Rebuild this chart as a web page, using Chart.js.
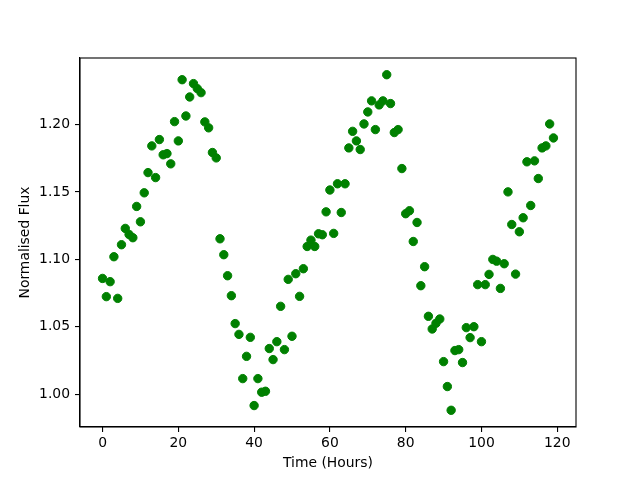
<!DOCTYPE html>
<html>
<head>
<meta charset="utf-8">
<script src="https://cdn.jsdelivr.net/npm/chart.js@4"></script>
<style>
html,body{margin:0;padding:0;background:#fff;}
canvas{display:block;}
</style>
</head>
<body>
<canvas id="c" width="640" height="480"></canvas>
<script>
const hours = [0,1,2,3,4,5,6,7,8,9,10,11,12,13,14,15,16,17,18,19,20,21,22,23,24,25,26,27,28,29,
30,31,32,33,34,35,36,37,38,39,40,41,42,43,44,45,46,47,48,49,50,51,52,53,54,55,56,57,58,59,
60,61,62,63,64,65,66,67,68,69,70,71,72,73,74,75,76,77,78,79,80,81,82,83,84,85,86,87,88,89,
90,91,92,93,94,95,96,97,98,99,100,101,102,103,104,105,106,107,108,109,110,111,112,113,114,115,116,117,118,119];
const flux = [1.0859,1.0724,1.0835,1.1020,1.0711,1.1109,1.1230,1.1185,1.1161,1.1393,
1.1279,1.1494,1.1644,1.1842,1.1607,1.1889,1.1776,1.1785,1.1709,1.2022,
1.1879,1.2333,1.2064,1.2205,1.2304,1.2267,1.2237,1.2020,1.1976,1.1793,
1.1753,1.1153,1.1035,1.0879,1.0731,1.0524,1.0444,1.0116,1.0281,1.0422,
0.9916,1.0116,1.0015,1.0022,1.0339,1.0257,1.0390,1.0652,1.0331,1.0852,
1.0430,1.0894,1.0726,1.0931,1.1096,1.1143,1.1096,1.1190,1.1183,1.1353,
1.1515,1.1193,1.1561,1.1348,1.1561,1.1827,1.1950,1.1879,1.1815,1.2005,
1.2094,1.2176,1.1963,1.2146,1.2176,1.2370,1.2156,1.1941,1.1963,1.1674,
1.1339,1.1361,1.1133,1.1274,1.0805,1.0946,1.0578,1.0484,1.0526,1.0558,
1.0242,1.0057,0.9881,1.0324,1.0331,1.0235,1.0494,1.0420,1.0501,1.0813,
1.0390,1.0813,1.0889,1.1000,1.0987,1.0785,1.0968,1.1501,1.1259,1.0891,
1.1205,1.1309,1.1724,1.1400,1.1731,1.1600,1.1827,1.1842,1.2005,1.1901];
const xTicks = [0,20,40,60,80,100,120];
const yTicks = [1.00,1.05,1.10,1.15,1.20];
const xLabel = 'Time (Hours)';
const yLabel = 'Normalised Flux';

const FONT = {family:'"DejaVu Sans", sans-serif', size:13.9};

const boxPlugin = {
  id:'box',
  afterDraw(chart){
    const a = chart.chartArea, ctx = chart.ctx;
    ctx.save();
    ctx.strokeStyle = '#000';
    ctx.lineWidth = 1.1;
    ctx.strokeRect(a.left, a.top, a.right - a.left, a.bottom - a.top);
    ctx.restore();
  }
};

new Chart(document.getElementById('c'), {
  type:'scatter',
  data:{
    datasets:[{
      data: hours.map((h,i)=>({x:h, y:flux[i]})),
      backgroundColor:'#008000',
      borderColor:'#008000',
      borderWidth:1,
      pointRadius:4.2,
      pointHoverRadius:4.2
    }]
  },
  options:{
    responsive:false,
    animation:false,
    events:[],
    layout:{padding:{top:58, right:64, left:0, bottom:0}},
    plugins:{legend:{display:false}, tooltip:{enabled:false}},
    scales:{
      x:{
        type:'linear',
        min:-5.95, max:124.95,
        afterBuildTicks(s){ s.ticks = xTicks.map(v=>({value:v})); },
        afterFit(s){ s.height = 53; },
        grid:{drawOnChartArea:false, drawTicks:true, tickLength:5, color:'#000', lineWidth:1.1},
        border:{display:true, color:'#000', width:1.1},
        ticks:{color:'#000', font:FONT, padding:3, maxRotation:0, autoSkip:false,
               callback:(v)=>String(v)},
        title:{display:true, text:xLabel, color:'#000', font:FONT, padding:{top:0,bottom:8}}
      },
      y:{
        type:'linear',
        min:0.9757, max:1.2494,
        afterBuildTicks(s){ s.ticks = yTicks.map(v=>({value:v})); },
        afterFit(s){ s.width = 80; },
        grid:{drawOnChartArea:false, drawTicks:true, tickLength:5, color:'#000', lineWidth:1.1},
        border:{display:true, color:'#000', width:1.1},
        ticks:{color:'#000', font:FONT, padding:5, autoSkip:false,
               callback:(v)=>Number(v).toFixed(2)},
        title:{display:true, text:yLabel, color:'#000', font:FONT, padding:{top:17,bottom:0}}
      }
    }
  },
  plugins:[boxPlugin]
});
</script>
</body>
</html>
